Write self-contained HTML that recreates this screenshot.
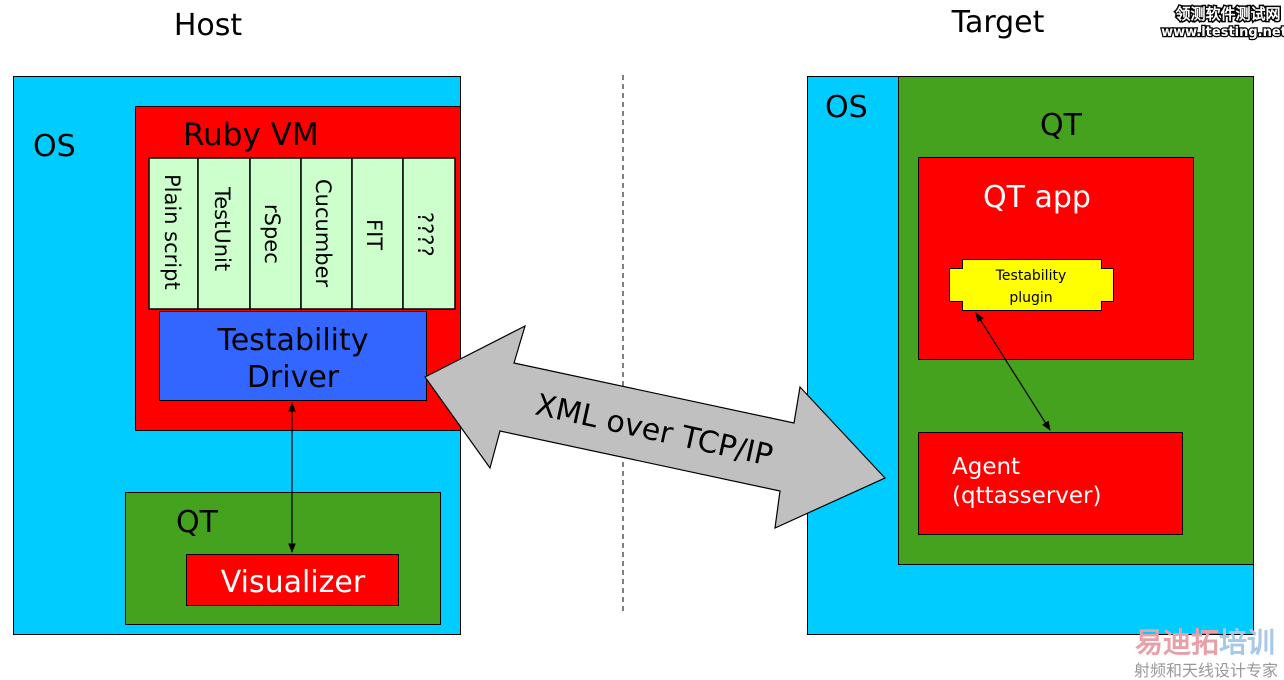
<!DOCTYPE html>
<html><head><meta charset="utf-8"><style>body{margin:0;background:#fff}svg{display:block}text{font-family:"DejaVu Sans","Liberation Sans",sans-serif}</style></head>
<body>
<svg width="1284" height="680" viewBox="0 0 1284 680" xmlns="http://www.w3.org/2000/svg">
<defs>
<marker id="a" viewBox="0 0 10 10" refX="9" refY="5" markerWidth="8" markerHeight="8" orient="auto-start-reverse"><path d="M0,1 L10,5 L0,9 z" fill="#000"/></marker>
</defs>
<text x="208" y="35" font-size="30" text-anchor="middle">Host</text>
<text x="998" y="32" font-size="30" text-anchor="middle">Target</text>
<text x="1228" y="19" font-size="15" font-weight="bold" text-anchor="middle" fill="#fff" stroke="#000" stroke-width="3" paint-order="stroke" font-family="Noto Sans CJK SC,sans-serif">领测软件测试网</text>
<text x="1224" y="36" font-size="13" font-weight="bold" text-anchor="middle" fill="#fff" stroke="#000" stroke-width="2.5" paint-order="stroke">www.ltesting.net</text>

<rect x="13.5" y="76.5" width="447" height="558" fill="#00ccff" stroke="#000"/>
<text x="33" y="156" font-size="30">OS</text>
<rect x="135.5" y="106.5" width="325" height="324" fill="#ff0000" stroke="#000"/>
<text x="183" y="145" font-size="31">Ruby VM</text>
<g fill="#ccffcc" stroke="#000" stroke-width="1.5">
<rect x="149" y="158" width="49" height="151"/><rect x="198" y="158" width="52" height="151"/><rect x="250" y="158" width="51" height="151"/><rect x="301" y="158" width="51" height="151"/><rect x="352" y="158" width="51" height="151"/><rect x="403" y="158" width="52" height="151"/>
</g>
<g font-size="21">
<text transform="translate(165,174) rotate(90)">Plain script</text>
<text transform="translate(215,187) rotate(90)">TestUnit</text>
<text transform="translate(265,204) rotate(90)">rSpec</text>
<text transform="translate(316,179) rotate(90)">Cucumber</text>
<text transform="translate(367,219) rotate(90)">FIT</text>
<text transform="translate(418,212) rotate(90)">????</text>
</g>
<rect x="159.5" y="311.5" width="267" height="89" fill="#3366ff" stroke="#000"/>
<text x="293" y="350" font-size="30" text-anchor="middle">Testability</text>
<text x="293" y="387" font-size="30" text-anchor="middle">Driver</text>
<rect x="125.5" y="492.5" width="315" height="132" fill="#44a21e" stroke="#000"/>
<text x="176" y="532" font-size="30">QT</text>
<rect x="186.5" y="554.5" width="212" height="51" fill="#ff0000" stroke="#000"/>
<text x="293" y="592" font-size="30" text-anchor="middle" fill="#fff">Visualizer</text>
<line x1="292" y1="403" x2="292" y2="552" stroke="#000" stroke-width="1.2" marker-start="url(#a)" marker-end="url(#a)"/>

<line x1="623" y1="75" x2="623" y2="615" stroke="#000" stroke-dasharray="5,4"/>

<rect x="807.5" y="76.5" width="446" height="558" fill="#00ccff" stroke="#000"/>
<text x="825" y="117" font-size="30">OS</text>
<rect x="898.5" y="76.5" width="355" height="488" fill="#44a21e" stroke="#000"/>
<text x="1040" y="135" font-size="30">QT</text>
<rect x="918.5" y="157.5" width="275" height="202" fill="#ff0000" stroke="#000"/>
<text x="983" y="207" font-size="30" fill="#fff">QT app</text>
<path d="M962.5,259.5 H1101.5 V268.5 H1113.5 V301.5 H1101.5 V310.5 H962.5 V301.5 H949.5 V268.5 H962.5 Z" fill="#ffff00" stroke="#000"/>
<text x="1031" y="280" font-size="14" text-anchor="middle">Testability</text>
<text x="1031" y="302" font-size="14" text-anchor="middle">plugin</text>
<rect x="918.5" y="432.5" width="264" height="102" fill="#ff0000" stroke="#000"/>
<text x="952" y="474" font-size="23" fill="#fff">Agent</text>
<text x="952" y="503" font-size="23" fill="#fff">(qttasserver)</text>
<line x1="976" y1="313" x2="1050" y2="430" stroke="#000" stroke-width="1.2" marker-start="url(#a)" marker-end="url(#a)"/>

<polygon points="425,377 525,326 514,363 794,423 800,387 885,478 775,528 780,491 500,431 490,468" fill="#c0c0c0" stroke="#000" stroke-width="1.2"/>
<text transform="translate(652,440) rotate(12.4)" font-size="30" text-anchor="middle">XML over TCP/IP</text>

<text x="1205" y="652" font-size="28" font-weight="bold" text-anchor="middle" fill="#e8a0a8" font-family="Noto Sans CJK SC,sans-serif">易迪拓<tspan fill="#a8c8e8">培训</tspan></text>
<text x="1206" y="676" font-size="16" text-anchor="middle" fill="#999" font-family="Noto Sans CJK SC,sans-serif">射频和天线设计专家</text>
</svg>
</body></html>
